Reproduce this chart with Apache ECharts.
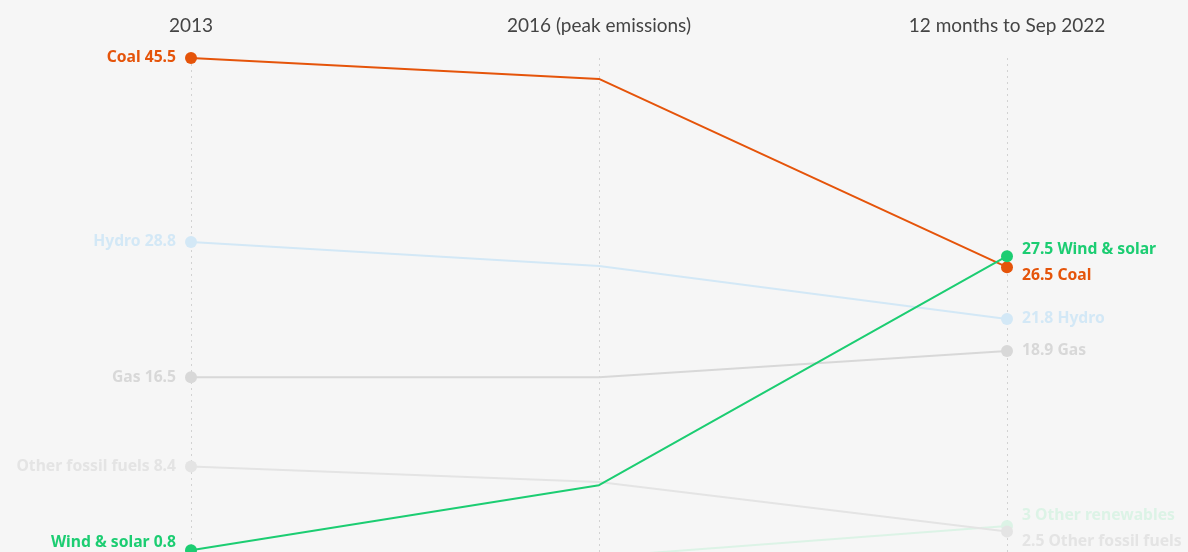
<!DOCTYPE html>
<html>
<head>
<meta charset="utf-8">
<script src="https://cdn.jsdelivr.net/npm/echarts@6/dist/echarts.min.js"></script>
<style>
html,body{margin:0;padding:0;background:#f6f6f6;}
#chart{width:1188px;height:552px;}
</style>
</head>
<body>
<div id="chart"></div>
<script>
// ---- data ----
const periods = ['2013', '2016 (peak emissions)', '12 months to Sep 2022'];
const seriesNames = ['Other renewables', 'Other fossil fuels', 'Gas', 'Hydro', 'Coal', 'Wind & solar'];
const otherRenewables = [0.3, 0.2, 3];
const otherFossil = [8.4, 7.0, 2.5];
const gas = [16.5, 16.5, 18.9];
const hydro = [28.8, 26.6, 21.8];
const coal = [45.5, 43.6, 26.5];
const windSolar = [0.8, 6.7, 27.5];

// ---- styling ----
const styles = {
  'Other renewables': {color: '#dcf3e6', startOffset: [0, 10], endOffset: [0, -10]},
  'Other fossil fuels': {color: '#e4e4e4', startOffset: [0, 0], endOffset: [0, 10]},
  'Gas': {color: '#d8d8d8', startOffset: [0, 0], endOffset: [0, 0]},
  'Hydro': {color: '#d3e8f6', startOffset: [0, 0], endOffset: [0, 0]},
  'Coal': {color: '#e5540a', startOffset: [0, 0], endOffset: [0, 8]},
  'Wind & solar': {color: '#1ccd72', startOffset: [0, -8], endOffset: [0, -7]}
};
const valuesByName = {
  'Other renewables': otherRenewables,
  'Other fossil fuels': otherFossil,
  'Gas': gas,
  'Hydro': hydro,
  'Coal': coal,
  'Wind & solar': windSolar
};
const LABEL_FONT = 'Noto Sans';
const HEAD_FONT = 'Lato';

const series = seriesNames.map(function (name, si) {
  const st = styles[name];
  const vals = valuesByName[name];
  const last = vals.length - 1;
  return {
    name: name,
    type: 'line',
    z: 2 + si,
    clip: false,
    symbol: 'circle',
    symbolSize: 12,
    showAllSymbol: true,
    lineStyle: {color: st.color, width: 2},
    itemStyle: {color: st.color},
    emphasis: {disabled: true},
    data: vals.map(function (v, i) {
      const item = {value: v};
      if (i === 0) {
        item.label = {show: true, position: 'left', distance: 9,
          offset: st.startOffset, formatter: name + ' ' + v};
      } else if (i === last) {
        item.label = {show: true, position: 'right', distance: 9,
          offset: st.endOffset, formatter: v + ' ' + name};
      } else {
        item.symbolSize = 0;
      }
      return item;
    }),
    label: {color: st.color, fontFamily: LABEL_FONT, fontWeight: 'bold', fontSize: 15.7}
  };
});

const chart = echarts.init(document.getElementById('chart'), null, {renderer: 'canvas'});
chart.setOption({
  animation: false,
  backgroundColor: '#f6f6f6',
  grid: {left: 191, right: 181, top: 58, height: 501, outerBoundsMode: 'none', containLabel: false},
  xAxis: {
    type: 'category',
    position: 'top',
    boundaryGap: false,
    data: periods,
    axisLine: {show: false},
    axisTick: {show: false},
    axisLabel: {color: '#444', fontFamily: HEAD_FONT, fontSize: 19, margin: 23},
    splitLine: {show: true, lineStyle: {type: [2, 4], color: '#d2d2d2', width: 1}}
  },
  yAxis: {
    type: 'value',
    min: 0,
    max: 45.5,
    show: false,
    splitLine: {show: false}
  },
  series: series
});
</script>
</body>
</html>
